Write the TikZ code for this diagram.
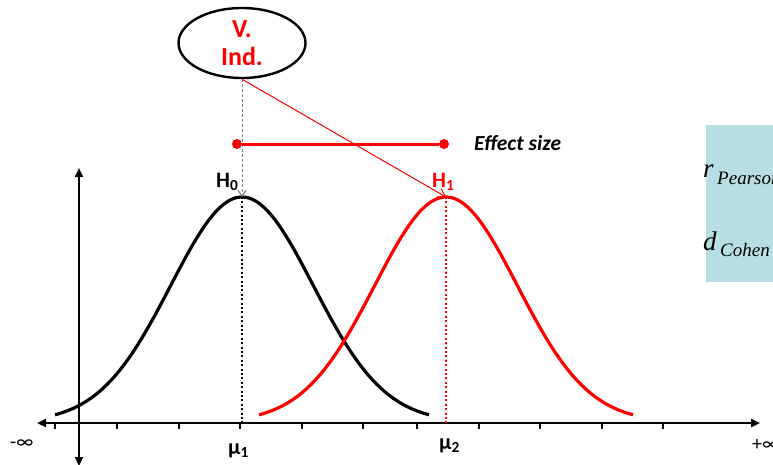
\documentclass[tikz,border=0pt]{standalone}
\usepackage{fontspec}
\setmainfont{Carlito}
\newfontfamily\esserif{Liberation Serif}
\usepackage{xcolor}
\usetikzlibrary{arrows.meta,positioning,shapes.geometric,calc}
\definecolor{esteal}{HTML}{B7DEE2}
\definecolor{esguidegray}{HTML}{7F7F7F}
\tikzset{
esvar/.style={ellipse,draw,line width=2.4pt,minimum width=127pt,minimum height=70pt,inner sep=0pt,align=center,text=red,font=\fontsize{26}{28}\selectfont\bfseries},
esaxis/.style={line width=2.2pt,{Triangle[length=9pt,width=8pt]}-{Triangle[length=9pt,width=8pt]}},
estick/.style={line width=2pt},
escurve/.style={line width=3.2pt,line join=round},
esdrop/.style={line width=2pt,dash pattern=on 2pt off 2.4pt},
eshint/.style={line width=1pt,esguidegray,dash pattern=on 3pt off 2pt,-{Straight Barb[length=6pt,width=8pt]}},
esshift/.style={line width=1pt,red,-{Straight Barb[length=7pt,width=9pt]}},
esdot/.style={circle,fill=red,minimum size=10pt,inner sep=0pt},
eslabel/.style={font=\fontsize{22}{24}\selectfont\bfseries,inner sep=0pt},
esinf/.style={font=\fontsize{20}{22}\selectfont,inner sep=0pt},
esbox/.style={rectangle,fill=esteal,minimum width=75pt,minimum height=157pt,inner sep=0pt},
esstat/.style={font=\esserif\itshape\fontsize{27}{28}\selectfont,inner sep=0pt},
essub/.style={font=\esserif\itshape\fontsize{19}{20}\selectfont,inner sep=0pt}
}
% truncated bell profile, peak at y=197
\newcommand\esbell[2]{\draw[escurve,#1] plot[domain=-187:187,samples=61,smooth]
  ({#2+\x},{197+225*(1-exp(-(\x/100)^2/1.0168))});}

\begin{document}
\begin{tikzpicture}[x=1pt,y=-1pt]
\useasboundingbox (0,0) rectangle (773,464);
% axes
\coordinate (xleft) at (37,423);
\coordinate (xright) at (760,423);
\coordinate (ybot) at (79,466);
\coordinate (ytop) at (79,168);
\draw[esaxis] (xleft) -- (xright);
\draw[esaxis] (ybot) -- (ytop);
\foreach \tx in {55,117,179,240,302,363,417,479,540,602,663}
  \draw[estick] (\tx,423) -- (\tx,429);
\node[esinf,anchor=base west] (minf) at (10,448) {-∞};
\node[esinf,anchor=base west] (pinf) at (752,450) {+∞};
% the two distributions
\esbell{black}{242}
\esbell{red}{446}
\coordinate (peak0) at (242,197);
\coordinate (peak1) at (446,197);
\coordinate (foot0) at (242,423);
\coordinate (foot1) at (446,423);
\draw[esdrop] (peak0) -- (foot0);
\draw[esdrop,red] (peak1) -- (foot1);
\node[eslabel,anchor=base west] (h0) at (216,187) {H\textsubscript{0}};
\node[eslabel,anchor=base west,red] (h1) at (432,187) {H\textsubscript{1}};
\node[eslabel,anchor=base west] (mu1) at (228,454) {μ\textsubscript{1}};
\node[eslabel,anchor=base west] (mu2) at (439,449) {μ\textsubscript{2}};
% independent variable
\node[esvar] (vind) at (242,43) {V.\\Ind.};
\draw[eshint] (vind.south) -- (peak0);
\draw[esshift] (vind.south) -- (peak1);
% effect size
\node[esdot] (esleft) at (237,144) {};
\node[esdot] (esright) at (444,144) {};
\draw[red,line width=3pt] (esleft) -- (esright);
\node[font=\fontsize{21.5}{24}\selectfont\bfseries\itshape,anchor=base west,inner sep=0pt]
  (eslab) at (474,150) {Effect size};
% measures
\node[esbox] (measures) at (743,203.5) {};
\node[esstat,anchor=base west] (rpear) at (703,177) {r};
\node[essub,anchor=base west] (rsub) at (717,184) {Pearson};
\node[esstat,anchor=base west] (dcoh) at (703,250) {d};
\node[essub,anchor=base west] (dsub) at (720,256) {Cohen};
\end{tikzpicture}
\end{document}
